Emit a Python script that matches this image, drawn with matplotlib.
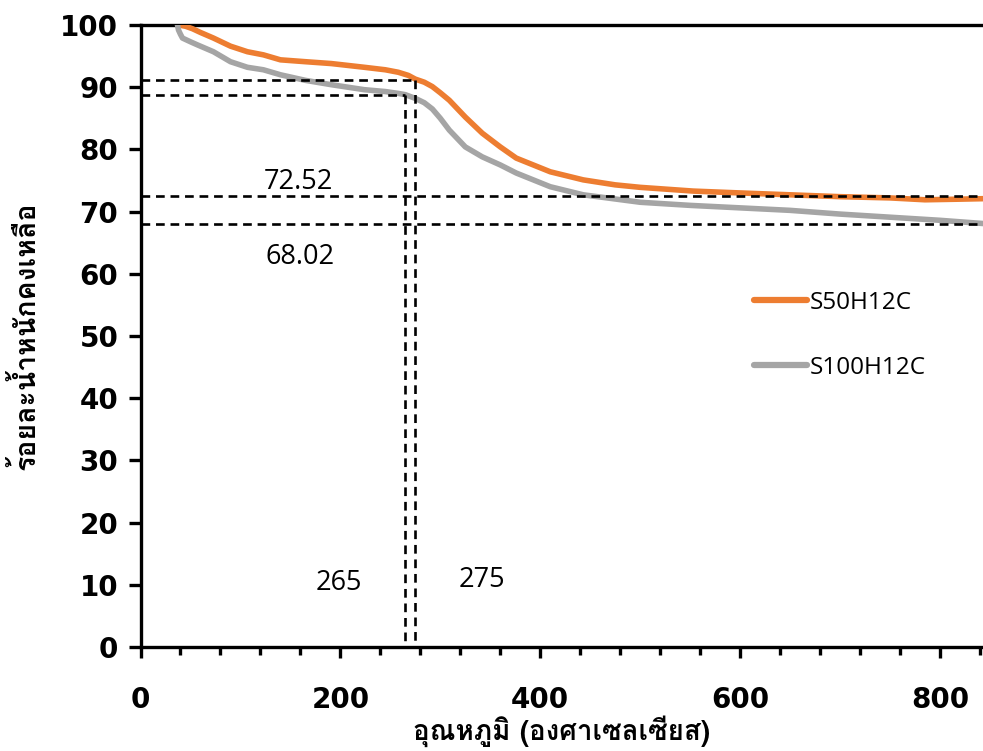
import matplotlib
matplotlib.use("Agg")
import matplotlib.pyplot as plt
from matplotlib import font_manager
from matplotlib.ft2font import FT2Font

# Thermogravimetric curves (temperature in deg C, remaining weight in %)
temp_s50 = [38, 45, 52, 60, 73, 90, 107, 123, 140, 165, 191, 224, 245, 258,
            268, 275, 284, 292, 300, 309, 325, 342, 360, 376, 393, 410, 443,
            475, 500, 553, 600, 650, 700, 750, 785, 820, 850]
weight_s50 = [100, 99.8, 99.4, 98.8, 97.9, 96.6, 95.7, 95.2, 94.4, 94.1, 93.8,
              93.2, 92.8, 92.4, 91.9, 91.3, 90.8, 90.1, 89.1, 87.9, 85.2, 82.6,
              80.4, 78.6, 77.5, 76.4, 75.1, 74.3, 73.9, 73.3, 73.0, 72.7, 72.4,
              72.2, 71.9, 72.0, 72.1]

temp_s100 = [37, 38, 40, 42, 50, 57, 73, 90, 107, 123, 140, 165, 191, 224, 245,
             258, 265, 275, 284, 292, 300, 309, 325, 342, 360, 376, 393, 410,
             443, 500, 550, 600, 650, 700, 750, 800, 850]
weight_s100 = [100, 99.2, 98.5, 97.9, 97.3, 96.8, 95.7, 94.1, 93.2, 92.8, 92.0,
               91.1, 90.4, 89.6, 89.3, 89.0, 88.8, 88.2, 87.5, 86.5, 85.0, 83.1,
               80.4, 78.8, 77.5, 76.2, 75.1, 74.0, 72.7, 71.5, 71.0, 70.6, 70.2,
               69.6, 69.1, 68.6, 68.0]

series_names = ["S50H12C", "S100H12C"]
series_colors = ["#ED7D31", "#A5A5A5"]

# Onset temperatures, weights at onset and residual weights
onset_temps = [265, 275]
onset_weights = [88.8, 91.2]
residual_weights = [72.52, 68.02]

x_ticks = [0, 200, 400, 600, 800]
y_ticks = list(range(0, 101, 10))
x_label = "อุณหภูมิ (องศาเซลเซียส)"
y_label = "ร้อยละน้ำหนักคงเหลือ"


def thai_family():
    """Pick an installed family covering Thai, preferring one with a bold face."""
    weights = {}
    for f in font_manager.fontManager.ttflist:
        try:
            cmap = FT2Font(f.fname).get_charmap()
        except Exception:
            continue
        if 0x0E2D in cmap and 0x0E39 in cmap:
            w = f.weight if isinstance(f.weight, int) else 700 if "bold" in str(f.weight) else 400
            weights.setdefault(f.name, set()).add(w)
    if not weights:
        return None
    preferred = ["Tahoma", "Leelawadee UI", "Noto Sans Thai", "Loma", "Garuda",
                 "Sarabun", "Waree", "Umpush", "Kinnari", "Norasi", "Sawasdee"]
    with_bold = [n for n, ws in weights.items() if max(ws) >= 600]
    for name in preferred:
        if name in with_bold:
            return name
    if with_bold:
        return sorted(with_bold)[0]
    for name in preferred:
        if name in weights:
            return name
    return sorted(weights)[0]


thai = thai_family()
thai_fams = ([thai] if thai else []) + ["DejaVu Sans"]

plt.rcParams["font.family"] = ["DejaVu Sans"]

fig = plt.figure(figsize=(9.83, 7.51), dpi=100)
ax = fig.add_axes([140.5 / 983, 1 - 647 / 751, (983 - 140.5) / 983, (647 - 25) / 751])

ax.plot(temp_s50, weight_s50, color=series_colors[0], lw=4.0,
        solid_capstyle="round", solid_joinstyle="round",
        label=series_names[0], zorder=3)
ax.plot(temp_s100, weight_s100, color=series_colors[1], lw=4.0,
        solid_capstyle="round", solid_joinstyle="round",
        label=series_names[1], zorder=3)

dash = dict(color="black", lw=1.9, dashes=(3.3, 2.2), zorder=4)
for t, w in zip(onset_temps, onset_weights):
    ax.plot([0, t], [w, w], **dash)
    ax.plot([t, t], [w, 0], **dash)
for r in residual_weights:
    ax.axhline(r, **dash)

note_font = dict(family=["Open Sans", "DejaVu Sans"], fontsize=19.5,
                 ha="center", va="center", color="black")
ax.text(158, 74.8, f"{residual_weights[0]:.2f}", **note_font)
ax.text(160, 62.7, f"{residual_weights[1]:.2f}", **note_font)
ax.text(198, 10.3, f"{onset_temps[0]}", **note_font)
ax.text(342, 10.8, f"{onset_temps[1]}", **note_font)

ax.set_xlim(0, 843)
ax.set_ylim(0, 100)
ax.set_xticks(x_ticks)
ax.set_xticks(range(40, 843, 40), minor=True)
ax.set_yticks(y_ticks)

for side in ("left", "bottom", "top"):
    ax.spines[side].set_linewidth(2.4)
    ax.spines[side].set_color("black")
ax.spines["right"].set_visible(False)

ax.tick_params(axis="y", which="major", direction="out", length=9, width=2.4,
               pad=7, labelsize=20)
ax.tick_params(axis="x", which="major", direction="out", length=8, width=2.4,
               pad=20, labelsize=20)
ax.tick_params(axis="x", which="minor", direction="out", length=6, width=2.4)
for lab in ax.get_yticklabels():
    lab.set_fontweight("bold")
for lab in ax.get_xticklabels():
    lab.set_fontweight("bold")

ax.set_xlabel(x_label, family=thai_fams, fontweight="bold", fontsize=20,
              labelpad=1)
ax.set_ylabel(y_label, family=thai_fams, fontweight="bold", fontsize=20.5,
              labelpad=15)

leg = ax.legend(loc="upper left", bbox_to_anchor=(0.7277, 0.573), frameon=False,
                prop={"family": ["Open Sans", "DejaVu Sans"], "size": 17.5},
                handlelength=2.2, handletextpad=0.12, labelspacing=1.7,
                borderpad=0, borderaxespad=0)
for h in leg.get_lines():
    h.set_linewidth(4.5)

fig.savefig("out.png", dpi=100)
